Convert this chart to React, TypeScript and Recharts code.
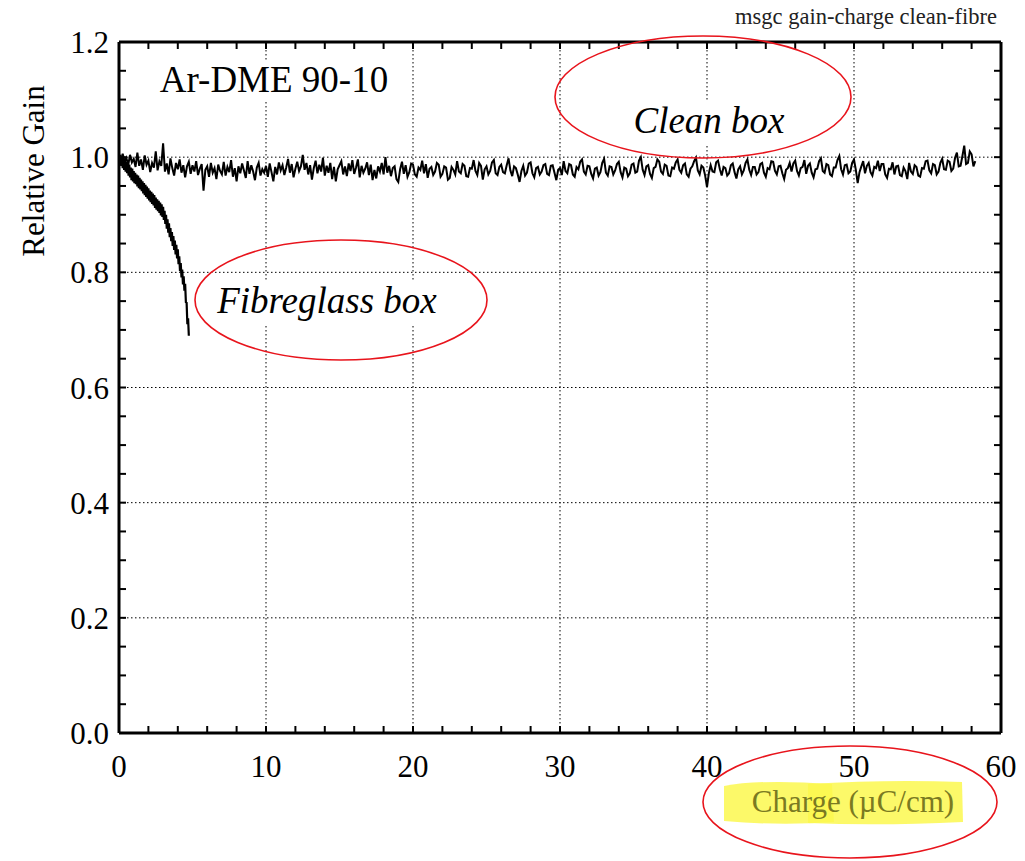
import React from 'react';
import { LineChart, Line, XAxis, YAxis, CartesianGrid, Label } from 'recharts';

// ---------- data ----------
const CLEAN_START = 0;
const CLEAN_STEP = 0.125;
const CLEAN_GAIN = [
  1.002, 0.990, 1.006, 0.993, 0.999, 0.986, 1.004, 0.991, 0.997, 0.983,
  1.008, 0.985, 0.996, 0.978, 1.003, 0.987, 0.994, 0.974, 0.990, 0.982,
  1.010, 0.977, 0.993, 0.985, 1.024, 0.975, 0.989, 0.970, 0.998, 0.981,
  0.968, 0.990, 0.979, 0.996, 0.973, 0.986, 0.965, 0.984, 0.992, 0.971,
  0.986, 0.975, 0.993, 0.969, 0.980, 0.988, 0.942, 0.978, 0.984, 0.966,
  0.990, 0.973, 0.981, 0.962, 0.987, 0.976, 0.970, 0.992, 0.968, 0.983,
  0.974, 0.995, 0.966, 0.981, 0.958, 0.984, 0.972, 0.989, 0.977, 0.964,
  0.993, 0.971, 0.986, 0.975, 0.960, 0.982, 0.990, 0.968, 0.979, 0.973,
  0.985, 0.966, 0.989, 0.974, 0.958, 0.983, 0.970, 0.991, 0.977, 0.986,
  0.969, 0.982, 0.997, 0.973, 0.988, 0.965, 0.980, 0.992, 0.976, 0.984,
  1.004, 0.978, 0.990, 0.970, 0.986, 0.961, 0.981, 0.994, 0.972, 0.987,
  0.975, 0.999, 0.968, 0.985, 0.973, 0.990, 0.962, 0.983, 0.958, 0.979,
  0.986, 0.993, 0.970, 0.984, 0.967, 0.989, 0.976, 0.995, 0.971, 0.982,
  0.996, 0.965, 0.985, 0.973, 0.980, 0.991, 0.969, 0.987, 0.960, 0.978,
  0.963, 0.984, 0.975, 0.990, 0.970, 1.000, 0.973, 0.985, 0.967, 0.981,
  0.984, 0.962, 0.957, 0.979, 0.992, 0.971, 0.986, 0.966, 0.974, 0.989,
  0.987, 0.970, 0.966, 0.982, 0.978, 0.994, 0.972, 0.988, 0.964, 0.980,
  0.983, 0.969, 0.975, 0.990, 0.987, 0.966, 0.971, 0.984, 0.982, 0.961,
  0.964, 0.983, 0.978, 0.970, 0.993, 0.975, 0.972, 0.988, 0.985, 0.967,
  0.966, 0.981, 0.980, 0.995, 0.976, 0.969, 0.990, 0.985, 0.961, 0.979,
  0.984, 0.970, 0.976, 0.991, 0.995, 0.972, 0.969, 0.983, 0.987, 0.974,
  0.972, 0.986, 0.998, 0.977, 0.967, 0.984, 0.981, 0.970, 0.957, 0.976,
  0.985, 0.968, 0.973, 0.989, 0.991, 0.972, 0.965, 0.981, 0.983, 0.970,
  0.975, 0.986, 0.988, 0.971, 0.969, 0.985, 0.986, 0.973, 0.960, 0.978,
  0.981, 0.969, 0.993, 0.976, 0.972, 0.988, 0.986, 0.970, 0.966, 0.983,
  0.979, 0.992, 0.996, 0.975, 0.970, 0.985, 0.984, 0.971, 0.963, 0.980,
  0.982, 0.968, 0.974, 0.990, 0.997, 0.973, 0.968, 0.984, 0.983, 0.970,
  0.977, 0.988, 0.992, 0.974, 0.965, 0.982, 0.980, 0.967, 0.972, 0.987,
  0.989, 0.973, 0.975, 0.994, 1.000, 0.978, 0.969, 0.984, 0.986, 0.971,
  0.964, 0.981, 0.983, 0.996, 0.992, 0.975, 0.971, 0.987, 0.985, 0.968,
  0.967, 0.982, 0.980, 0.991, 0.996, 0.978, 0.973, 0.986, 0.989, 0.970,
  0.966, 0.980, 0.984, 0.993, 0.999, 0.977, 0.970, 0.985, 0.982, 0.968,
  0.948, 0.972, 0.986, 0.975, 0.974, 0.991, 0.994, 0.979, 0.968, 0.983,
  0.981, 0.968, 0.972, 0.986, 0.989, 0.974, 0.963, 0.979, 0.984, 0.970,
  0.977, 0.990, 0.996, 0.978, 0.969, 0.983, 0.983, 0.970, 0.974, 0.988,
  0.990, 0.973, 0.966, 0.981, 0.979, 0.993, 0.992, 0.976, 0.970, 0.984,
  0.985, 0.972, 0.962, 0.978, 0.981, 0.990, 0.975, 0.989, 0.994, 0.976,
  0.968, 0.981, 0.983, 0.995, 0.971, 0.985, 0.989, 0.973, 0.965, 0.979,
  0.980, 0.993, 0.998, 0.976, 0.973, 0.988, 0.986, 0.970, 0.967, 0.982,
  0.982, 0.995, 1.002, 0.979, 0.970, 0.986, 0.987, 0.972, 0.975, 0.990,
  0.996, 0.978, 0.955, 0.974, 0.984, 0.993, 0.972, 0.985, 0.990, 0.974,
  0.968, 0.983, 0.981, 0.994, 0.976, 0.988, 0.988, 0.970, 0.964, 0.980,
  0.979, 0.991, 0.970, 0.984, 0.985, 0.969, 0.967, 0.982, 0.976, 0.962,
  0.990, 0.975, 0.971, 0.986, 0.983, 0.968, 0.966, 0.981, 0.980, 0.993,
  0.994, 0.977, 0.972, 0.988, 0.986, 0.970, 0.975, 0.990, 0.997, 0.979,
  0.978, 0.994, 0.992, 0.976, 0.980, 0.999, 1.008, 0.984, 0.985, 1.002,
  1.020, 0.988, 0.990, 1.010, 1.005, 0.984, 0.993,
];

const FIBRE_START = 0;
const FIBRE_STEP = 0.05;
const FIBRE_GAIN = [
  1.006, 0.989, 1.004, 0.985, 1.001, 0.981, 0.998, 0.978, 0.996, 0.975,
  0.992, 0.972, 0.989, 0.968, 0.987, 0.965, 0.982, 0.960, 0.980, 0.958,
  0.976, 0.955, 0.973, 0.953, 0.970, 0.949, 0.968, 0.946, 0.964, 0.944,
  0.961, 0.941, 0.958, 0.937, 0.955, 0.934, 0.952, 0.931, 0.949, 0.928,
  0.946, 0.925, 0.942, 0.922, 0.940, 0.919, 0.937, 0.916, 0.934, 0.912,
  0.930, 0.909, 0.927, 0.906, 0.924, 0.903, 0.921, 0.899, 0.918, 0.896,
  0.914, 0.891, 0.907, 0.884, 0.900, 0.876, 0.892, 0.869, 0.885, 0.861,
  0.877, 0.854, 0.870, 0.846, 0.863, 0.839, 0.855, 0.831, 0.848, 0.824,
  0.840, 0.814, 0.828, 0.802, 0.816, 0.791, 0.805, 0.779, 0.793, 0.768,
  0.780, 0.748, 0.747, 0.710, 0.720, 0.690,
];

const X_TICKS = [0, 2, 4, 6, 8, 10, 12, 14, 16, 18, 20, 22, 24, 26, 28, 30, 32, 34, 36, 38, 40, 42, 44, 46, 48, 50, 52, 54, 56, 58, 60];
const X_LABELLED = [0, 10, 20, 30, 40, 50, 60];
const Y_TICKS = [0, 0.05, 0.1, 0.15, 0.2, 0.25, 0.3, 0.35, 0.4, 0.45, 0.5, 0.55, 0.6, 0.65, 0.7, 0.75, 0.8, 0.85, 0.9, 0.95, 1.0, 1.05, 1.1, 1.15, 1.2];
const Y_LABELLED = [0, 0.2, 0.4, 0.6, 0.8, 1.0, 1.2];

const TITLE = 'msgc gain-charge clean-fibre';
const X_TITLE = 'Charge (\u00b5C/cm)';
const Y_TITLE = 'Relative Gain';
const GAS_LABEL = 'Ar-DME 90-10';
const CLEAN_LABEL = 'Clean box';
const FIBRE_LABEL = 'Fibreglass box';

const cleanData = CLEAN_GAIN.map((g, i) => ({ charge: CLEAN_START + i * CLEAN_STEP, gain: g }));
const fibreData = FIBRE_GAIN.map((g, i) => ({ charge: FIBRE_START + i * FIBRE_STEP, gain: g }));

const SERIF = '"Liberation Serif", "Times New Roman", serif';
const W = 1025;
const H = 861;

const isLabelled = (list: number[], v: number) => list.some((t) => Math.abs(t - v) < 1e-6);
const blank = () => '';

const YTitle = () => (
  <text x={33} y={171} transform="rotate(-90 33 171)" textAnchor="middle" dominantBaseline="central"
    fontFamily={SERIF} fontSize={31} fill="#000">{Y_TITLE}</text>
);
const XTitle = () => (
  <text x={853} y={812} textAnchor="middle" fontFamily={SERIF} fontSize={31} fill="#7a7a22">{X_TITLE}</text>
);

export default function App() {
  return (
    <div style={{ position: 'absolute', left: 0, top: 0, width: W, height: H, background: '#fff' }}>
      {/* highlighter under the axis title */}
      <svg width={W} height={H} style={{ position: 'absolute', left: 0, top: 0 }}>
        <path d="M724,786 Q760,779 832,784 L834,822 Q780,826 724,821 Z" fill="#fbf84f" opacity={0.85} />
        <path d="M808,784 Q890,779 962,782 L963,822 Q880,826 808,823 Z" fill="#fbf84f" opacity={0.85} />
      </svg>
      <div style={{ position: 'absolute', left: 0, top: 0 }}>
        <LineChart width={W} height={H} margin={{ top: 42, right: 24, left: 0, bottom: 0 }}>
          <CartesianGrid stroke="#000" strokeWidth={1} strokeDasharray="1.5 2.5"
            verticalValues={X_LABELLED} horizontalValues={Y_LABELLED} />
          <XAxis xAxisId={0} dataKey="charge" type="number" domain={[0, 60]} ticks={X_TICKS} interval={0}
            allowDataOverflow height={128} tickSize={-7} tickMargin={29}
            tickLine={{ stroke: '#000', strokeWidth: 2 }}
            axisLine={{ stroke: '#000', strokeWidth: 3 }}
            tickFormatter={(v: number) => (isLabelled(X_LABELLED, v) ? String(v) : '')}
            tick={{ fontFamily: SERIF, fontSize: 31, fill: '#000' }}>
            <Label content={<XTitle />} />
          </XAxis>
          <XAxis xAxisId="top" dataKey="charge" type="number" domain={[0, 60]} ticks={X_TICKS} interval={0}
            allowDataOverflow orientation="top" mirror tickFormatter={blank} tick={{ fontSize: 1 }} tickSize={7}
            axisLine={{ stroke: '#000', strokeWidth: 3 }} tickLine={{ stroke: '#000', strokeWidth: 2 }} />
          <YAxis yAxisId={0} type="number" domain={[0, 1.2]} ticks={Y_TICKS} interval={0} allowDataOverflow width={119}
            tickSize={-7} tickMargin={17}
            tickLine={{ stroke: '#000', strokeWidth: 2 }}
            axisLine={{ stroke: '#000', strokeWidth: 3 }}
            tickFormatter={(v: number) => (isLabelled(Y_LABELLED, v) ? v.toFixed(1) : '')}
            tick={{ fontFamily: SERIF, fontSize: 31, fill: '#000' }}>
            <Label content={<YTitle />} />
          </YAxis>
          <YAxis yAxisId="right" type="number" domain={[0, 1.2]} ticks={Y_TICKS} interval={0} allowDataOverflow
            orientation="right" mirror tickFormatter={blank} tick={{ fontSize: 1 }} tickSize={7}
            axisLine={{ stroke: '#000', strokeWidth: 3 }} tickLine={{ stroke: '#000', strokeWidth: 2 }} />
          <Line data={cleanData} dataKey="gain" type="linear" stroke="#000" strokeWidth={2}
            dot={false} isAnimationActive={false} />
          <Line data={fibreData} dataKey="gain" xAxisId="top" yAxisId="right" type="linear" stroke="#000" strokeWidth={2.2}
            dot={false} isAnimationActive={false} />
        </LineChart>
      </div>
      {/* annotations */}
      <svg width={W} height={H} style={{ position: 'absolute', left: 0, top: 0, pointerEvents: 'none' }}>
        <text x={997} y={24} textAnchor="end" fontFamily={SERIF} fontSize={22.5} fill="#222">{TITLE}</text>
        <rect x={154} y={60} width={240} height={42} fill="#fff" />
        <text x={274} y={92} textAnchor="middle" fontFamily={SERIF} fontSize={37} fill="#000">{GAS_LABEL}</text>
        <rect x={626} y={100} width={168} height={46} fill="#fff" />
        <text x={709} y={133} textAnchor="middle" fontFamily={SERIF} fontStyle="italic" fontSize={37} fill="#000">{CLEAN_LABEL}</text>
        <rect x={208} y={280} width={238} height={46} fill="#fff" />
        <text x={327} y={313} textAnchor="middle" fontFamily={SERIF} fontStyle="italic" fontSize={37} fill="#000">{FIBRE_LABEL}</text>
        <ellipse cx={703} cy={97} rx={148} ry={61} fill="none" stroke="#e8141c" strokeWidth={1.6} />
        <ellipse cx={341} cy={300} rx={146} ry={60} fill="none" stroke="#e8141c" strokeWidth={1.6} />
        <ellipse cx={850} cy={802} rx={147} ry={56} fill="none" stroke="#e8141c" strokeWidth={1.6} />
      </svg>
    </div>
  );
}
